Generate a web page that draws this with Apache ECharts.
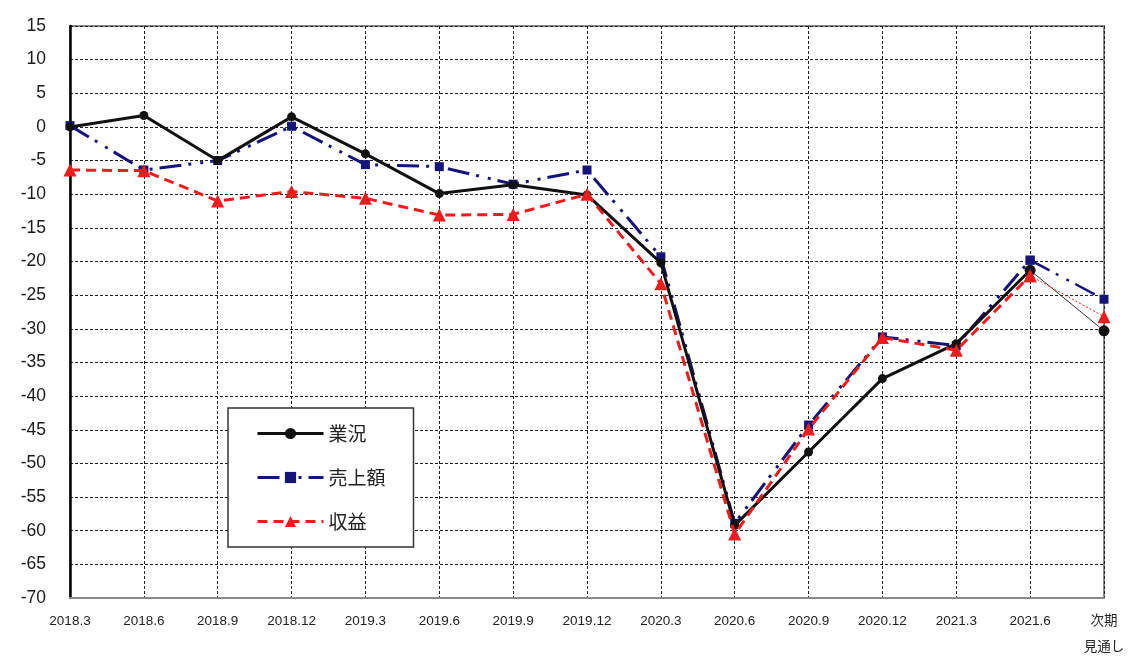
<!DOCTYPE html>
<html>
<head>
<meta charset="utf-8">
<script src="https://cdn.jsdelivr.net/npm/echarts@6/dist/echarts.min.js"></script>
<style>
  html, body { margin: 0; padding: 0; background: #fff; }
  #chart { width: 1130px; height: 659px; }
</style>
</head>
<body>
<div id="chart"></div>
<script>
// Survey periods (last one is the outlook for the next period)
const categories = ['2018.3','2018.6','2018.9','2018.12','2019.3','2019.6','2019.9','2019.12',
  '2020.3','2020.6','2020.9','2020.12','2021.3','2021.6','次期\n見通し'];

// DI values per period
const gyokyo  = [0, 1.7, -5, 1.5, -4, -9.9, -8.6, -10.1, -20.2, -59.2, -48.3, -37.4, -32.2, -21.3, -30.3];
const uriage  = [0.2, -6.4, -5, 0.1, -5.6, -5.9, -8.5, -6.4, -19.3, -58.9, -44.3, -31.2, -32.5, -19.8, -25.6];
const shueki  = [-6.4, -6.5, -11, -9.6, -10.6, -13.1, -13, -10, -23.3, -60.5, -44.9, -31.3, -33.2, -22.1, -28.2];

// y-axis range
const yMin = -70, yMax = 15, yStep = 5;

const n = categories.length;
// Actual results: all periods except the outlook
const actual = arr => arr.map((v, i) => (i < n - 1 ? v : null));
// Outlook segment: last actual period to the outlook
const outlook = arr => arr.map((v, i) => (i >= n - 2 ? v : null));

const black = '#111111';
const navy = '#14147a';
const red = '#ee1c1c';
const salesDash = [22, 7, 3, 9, 3, 7];

const chart = echarts.init(document.getElementById('chart'));
chart.setOption({
  animation: false,
  backgroundColor: '#ffffff',
  grid: {
    left: 70, right: 26, top: 26, bottom: 61,
    outerBoundsMode: 'none',
    show: true, borderColor: '#8a8a8a', borderWidth: 2
  },
  legend: {
    data: ['業況', '売上額', '収益'],
    orient: 'vertical',
    left: 228, top: 408,
    backgroundColor: '#ffffff',
    borderColor: '#333333', borderWidth: 1.5,
    padding: [16, 28, 16, 28],
    itemWidth: 66, itemHeight: 14, itemGap: 25,
    lineStyle: { width: 3 },
    textStyle: { fontSize: 19, color: '#222', fontFamily: '"Noto Sans CJK JP", sans-serif' }
  },
  xAxis: {
    type: 'category',
    data: categories,
    boundaryGap: false,
    axisLine: { onZero: false, lineStyle: { color: '#8a8a8a', width: 2 } },
    axisTick: { show: false },
    axisLabel: {
      interval: 0, fontSize: 13.5, color: '#222', margin: 10, lineHeight: 26,
      fontFamily: '"Liberation Sans", "Noto Sans CJK JP", sans-serif'
    },
    splitLine: { show: true, lineStyle: { color: '#222', width: 1, type: [3, 2] } }
  },
  yAxis: {
    type: 'value',
    min: yMin, max: yMax, interval: yStep,
    axisLine: { show: true, onZero: false, lineStyle: { color: '#000', width: 2.5 } },
    axisTick: { show: false },
    axisLabel: {
      fontSize: 17.5, color: '#1a1a1a', margin: 24,
      fontFamily: '"Liberation Sans", sans-serif'
    },
    splitLine: { show: true, lineStyle: { color: '#222', width: 1, type: [3, 2] } }
  },
  series: [
    {
      name: '業況', type: 'line', data: actual(gyokyo), z: 4,
      symbol: 'circle', symbolSize: 9,
      itemStyle: { color: black },
      lineStyle: { color: black, width: 3 }
    },
    {
      name: '売上額', type: 'line', data: actual(uriage), z: 3,
      symbol: 'rect', symbolSize: 9,
      itemStyle: { color: navy },
      lineStyle: { color: navy, width: 3, type: salesDash }
    },
    {
      name: '収益', type: 'line', data: actual(shueki), z: 5,
      symbol: 'triangle', symbolSize: 13,
      itemStyle: { color: red },
      lineStyle: { color: red, width: 3, type: [10, 6] }
    },
    {
      name: '業況（見通し）', type: 'line', data: outlook(gyokyo), z: 4,
      symbol: 'circle', symbolSize: 11,
      itemStyle: { color: black },
      lineStyle: { color: '#333', width: 1 }
    },
    {
      name: '売上額（見通し）', type: 'line', data: outlook(uriage), z: 3,
      symbol: 'rect', symbolSize: 9,
      itemStyle: { color: navy },
      lineStyle: { color: navy, width: 2.5, type: salesDash }
    },
    {
      name: '収益（見通し）', type: 'line', data: outlook(shueki), z: 5,
      symbol: 'triangle', symbolSize: 13,
      itemStyle: { color: red },
      lineStyle: { color: red, width: 1, type: [2, 2] }
    }
  ]
});
</script>
</body>
</html>
